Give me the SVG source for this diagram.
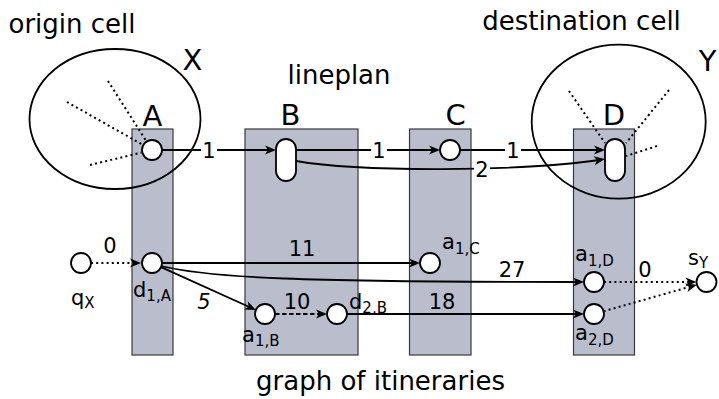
<svg xmlns="http://www.w3.org/2000/svg" width="719" height="399" viewBox="0 0 719 399">
<style>
.col{fill:#b9bdcc;stroke:#3a3a3a;stroke-width:1.2}
.cell{fill:none;stroke:#000;stroke-width:1.8}
.node{fill:#fff;stroke:#000;stroke-width:1.8}
.e{fill:none;stroke:#000;stroke-width:1.8}
.dot{fill:none;stroke:#000;stroke-width:2;stroke-dasharray:2 3.2}
.dash{stroke-dasharray:4.5 2.5}
text{font-family:"DejaVu Sans",sans-serif;fill:#000}
.big{font-size:26px;text-anchor:middle}
.let{font-size:29px;text-anchor:middle}
.num{font-size:21px;text-anchor:middle}
.lbl{font-size:21px}
.sub{font-size:15px}
.bg{fill:#fff;stroke:none}
</style>
<defs>
<marker id="arr" viewBox="-9 -5 13 10" refX="0" refY="0" markerWidth="13" markerHeight="10" markerUnits="userSpaceOnUse" orient="auto">
<path d="M-8,-4.5 L3,0 L-8,4.5 L-5,0 Z" fill="#000"/>
</marker>
</defs>

<g id="columns">
<rect id="colA" class="col" x="132" y="129" width="41" height="226"/>
<rect id="colB" class="col" x="245" y="129" width="113" height="226"/>
<rect id="colC" class="col" x="409.5" y="129" width="61.5" height="226"/>
<rect id="colD" class="col" x="573.5" y="129" width="61" height="226"/>
</g>

<g id="cellX">
<ellipse class="cell" cx="115" cy="119" rx="85.5" ry="70"/>
<path class="dot" d="M108,81 L146,140.7 M67,102 L142.4,144.6 M90,165 L141.3,152.6"/>
</g>
<g id="cellY">
<ellipse class="cell" cx="618.7" cy="121.7" rx="87" ry="77"/>
<path class="dot" d="M569,91 L605,143 M669,90 L626,143 M657,146 L626,156"/>
</g>

<g id="connectors">
<path class="e" d="M162,150 H273" marker-end="url(#arr)"/>
<path class="e" d="M296,150 H437" marker-end="url(#arr)"/>
<path class="e" d="M460,150 H602" marker-end="url(#arr)"/>
<path class="e" d="M296,161 C360,172 520,172 602,159.5" marker-end="url(#arr)"/>
<rect class="bg" x="201" y="140" width="16" height="19"/>
<rect class="bg" x="371" y="140" width="16" height="19"/>
<rect class="bg" x="505" y="140" width="16" height="19"/>
<rect class="bg" x="474" y="160" width="16" height="19"/>
<path class="dot" d="M91,263 H138" marker-end="url(#arr)"/>
<path class="e" d="M162,263 H417" marker-end="url(#arr)"/>
<path class="e" d="M161,266 C210,278 300,282 581,282" marker-end="url(#arr)"/>
<path class="e" d="M161.1,267.1 L253.2,308.7" marker-end="url(#arr)"/>
<path class="e dash" d="M275,314 H324" marker-end="url(#arr)"/>
<path class="e" d="M347,314 H581" marker-end="url(#arr)"/>
<path class="dot" d="M604,282 H693.5" marker-end="url(#arr)"/>
<path class="dot" d="M603.6,311.3 L694,285.6" marker-end="url(#arr)"/>
</g>

<g id="nodeA"><circle class="node" cx="152" cy="150" r="10"/></g>
<g id="nodeB"><rect class="node" x="276" y="139" width="20" height="42" rx="10"/></g>
<g id="nodeC"><circle class="node" cx="450" cy="150" r="10"/></g>
<g id="nodeD"><rect class="node" x="605" y="139" width="20" height="42" rx="10"/></g>
<g id="node-qX"><circle class="node" cx="81" cy="263" r="10"/></g>
<g id="node-d1A"><circle class="node" cx="152" cy="263" r="10"/></g>
<g id="node-a1B"><circle class="node" cx="265" cy="314" r="10"/></g>
<g id="node-d2B"><circle class="node" cx="337" cy="314" r="10"/></g>
<g id="node-a1C"><circle class="node" cx="430" cy="263" r="10"/></g>
<g id="node-a1D"><circle class="node" cx="594" cy="282" r="10"/></g>
<g id="node-a2D"><circle class="node" cx="594" cy="314" r="10"/></g>
<g id="node-sY"><circle class="node" cx="706.5" cy="282" r="10"/></g>

<g id="labels">
<text class="big" x="72" y="33">origin cell</text>
<text class="big" x="581.5" y="30">destination cell</text>
<text class="big" x="339" y="84">lineplan</text>
<text class="big" x="380.5" y="390">graph of itineraries</text>
<text class="let" x="192.5" y="70">X</text>
<text class="let" x="707.5" y="71">Y</text>
<text class="let" x="152.5" y="126">A</text>
<text class="let" x="290.5" y="125">B</text>
<text class="let" x="455.5" y="125">C</text>
<text class="let" x="614" y="125">D</text>
<text class="num" x="209" y="158">1</text>
<text class="num" x="379" y="158">1</text>
<text class="num" x="513" y="158">1</text>
<text class="num" x="482" y="177">2</text>
<text class="num" x="110" y="253">0</text>
<text class="num" x="302" y="256">11</text>
<text class="num" x="512" y="277">27</text>
<text class="num" x="442" y="309">18</text>
<text class="num" x="297" y="309">10</text>
<text class="num" x="204" y="309" font-style="italic">5</text>
<text class="num" x="645" y="277">0</text>
<text class="lbl" x="71" y="305">q<tspan class="sub" dy="3">X</tspan></text>
<text class="lbl" x="133" y="297">d<tspan class="sub" dy="4">1,A</tspan></text>
<text class="lbl" x="242" y="342">a<tspan class="sub" dy="4">1,B</tspan></text>
<text class="lbl" x="349" y="309">d<tspan class="sub" dy="4">2,B</tspan></text>
<text class="lbl" x="442" y="249">a<tspan class="sub" dy="5">1,C</tspan></text>
<text class="lbl" x="575" y="261">a<tspan class="sub" dy="5">1,D</tspan></text>
<text class="lbl" x="575" y="340">a<tspan class="sub" dy="5">2,D</tspan></text>
<text class="lbl" x="688" y="265">s<tspan class="sub" dy="3">Y</tspan></text>
</g>
</svg>
